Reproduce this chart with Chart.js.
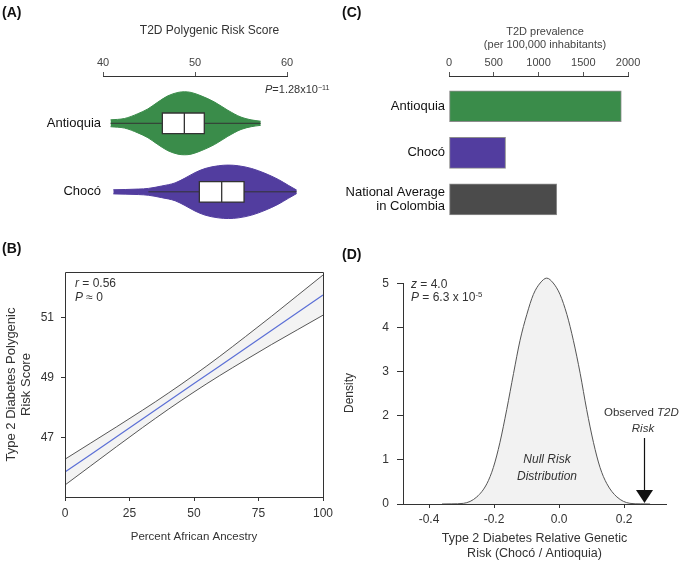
<!DOCTYPE html>
<html>
<head>
<meta charset="utf-8">
<title>T2D genetic risk: Antioquia vs Chocó</title>
<script src="https://cdn.jsdelivr.net/npm/chart.js@4.4.1/dist/chart.umd.min.js"></script>
<style>
  body { margin: 0; background: #fff; }
  #fig { position: relative; width: 685px; height: 563px; overflow: hidden;
         font-family: "Liberation Sans", Arial, sans-serif; color: #333; }
  #fig canvas { position: absolute; }
  .txt { position: absolute; white-space: nowrap; line-height: 1; font-size: 12px; }
  .lbl { font-weight: bold; font-size: 14px; color: #111; }
  .sup { font-size: 0.65em; position: relative; top: -0.5em; }
  .ctr { text-align: center; }
</style>
</head>
<body>
<div id="fig">
  <canvas id="chartA" width="340" height="245" style="left:0;top:0"></canvas>
  <canvas id="chartC" width="345" height="245" style="left:340px;top:0"></canvas>
  <canvas id="chartB" width="340" height="308" style="left:0;top:255px"></canvas>
  <canvas id="chartD" width="345" height="308" style="left:340px;top:255px"></canvas>

  <div class="txt lbl" style="left:2px;top:4.6px">(A)</div>
  <div class="txt lbl" style="left:2px;top:240.6px">(B)</div>
  <div class="txt lbl" style="left:342px;top:4.6px">(C)</div>
  <div class="txt lbl" style="left:342px;top:246.6px">(D)</div>

  <div class="txt" style="left:265px;top:84.2px;font-size:11px"><i>P</i>=1.28x10<span class="sup">−11</span></div>

  <div class="txt" style="left:75px;top:276.6px"><i>r</i> = 0.56</div>
  <div class="txt" style="left:75px;top:290.6px"><i>P</i> ≈ 0</div>

  <div class="txt" style="left:411px;top:277.6px"><i>z</i> = 4.0</div>
  <div class="txt" style="left:411px;top:290.6px"><i>P</i> = 6.3 x 10<span class="sup">-5</span></div>
  <div class="txt ctr" style="left:497px;width:100px;top:452.6px"><i>Null Risk</i></div>
  <div class="txt ctr" style="left:497px;width:100px;top:469.6px"><i>Distribution</i></div>
  <div class="txt" style="left:604px;top:406.9px;font-size:11.5px">Observed <i>T2D</i></div>
  <div class="txt ctr" style="left:613px;width:60px;top:422.9px;font-size:11.5px"><i>Risk</i></div>
  <div class="txt" style="left:349px;top:393px;transform:translate(-50%,-50%) rotate(-90deg)">Density</div>
</div>

<script>
// ---- (A) polygenic risk score violins ----
const violinGroups = ['Antioquia', 'Chocó'];
const antioquiaScore = [40.82, 42.34, 43.79, 44.88, 45.97, 47.05, 48.14, 48.86, 49.58, 50.67, 52.12, 53.57, 55.0, 56.1, 57.14];
const antioquiaWidth = [0.05, 0.07, 0.14, 0.21, 0.31, 0.40, 0.45, 0.46, 0.45, 0.40, 0.31, 0.19, 0.09, 0.05, 0.03];
const chocoScore = [41.12, 43.84, 44.93, 46.38, 47.83, 48.91, 50.0, 51.09, 52.54, 53.62, 54.71, 56.16, 57.61, 59.06, 60.14, 61.05];
const chocoWidth = [0.03, 0.04, 0.05, 0.085, 0.13, 0.20, 0.28, 0.34, 0.38, 0.39, 0.38, 0.34, 0.27, 0.18, 0.095, 0.025];
// whisker low, q1, median, q3, whisker high
const antioquiaBox = [40.82, 46.45, 48.84, 51.01, 57.14];
const chocoBox = [44.93, 50.47, 52.9, 55.33, 61.05];
const scoreTicks = [40, 50, 60];

// ---- (B) regression of PRS on African ancestry ----
const ancestryPct = [0, 10, 20, 30, 40, 50, 60, 70, 80, 90, 100];
const fitScore = [45.86, 46.45, 47.04, 47.63, 48.22, 48.81, 49.40, 49.99, 50.58, 51.17, 51.76];
const fitUpper = [46.29, 46.83, 47.37, 47.92, 48.49, 49.09, 49.72, 50.38, 51.05, 51.74, 52.43];
const fitLower = [45.43, 46.07, 46.71, 47.34, 47.95, 48.53, 49.08, 49.60, 50.11, 50.60, 51.09];
const ancestryTicks = [0, 25, 50, 75, 100];
const prsTicks = [47, 49, 51];

// ---- (C) T2D prevalence ----
const regions = ['Antioquia', 'Chocó', ['National Average', 'in Colombia']];
const prevalence = [1925, 632, 1204];
const prevalenceTicks = [0, 500, 1000, 1500, 2000];

// ---- (D) null distribution of relative risk ----
const riskX = [-0.36, -0.33, -0.294, -0.253, -0.222, -0.202, -0.182, -0.161, -0.14, -0.12, -0.099, -0.079, -0.058, -0.038,
               -0.018, 0.003, 0.024, 0.044, 0.065, 0.085, 0.106, 0.126, 0.147, 0.178, 0.218, 0.25, 0.28];
const riskDensity = [0, 0.003, 0.015, 0.16, 0.46, 0.83, 1.39, 2.14, 2.96, 3.71, 4.30, 4.75, 5.01, 5.12,
                     5.01, 4.75, 4.30, 3.71, 2.96, 2.14, 1.39, 0.83, 0.46, 0.16, 0.015, 0.003, 0];
const observedRisk = 0.26;
const densityTicks = [0, 1, 2, 3, 4, 5];
const riskTicks = [-0.4, -0.2, 0, 0.2];

const GREEN = '#3a8c4a', PURPLE = '#523d9f', GREY = '#4b4b4b', INK = '#333';
const BOX_HALF = 0.15;

Chart.defaults.font.family = '"Liberation Sans", Arial, sans-serif';
Chart.defaults.color = INK;

const snap = v => Math.round(v) + 0.5;
const fixTicks = list => s => { s.ticks = list.map(value => ({ value })); };

// axis lines that only span part of the plot area, plus an optional frame
const axisLine = {
  id: 'axisLine',
  afterDatasetsDraw(chart, args, opts) {
    const { ctx, chartArea: area, scales } = chart;
    ctx.save();
    ctx.strokeStyle = INK;
    ctx.lineWidth = 1;
    ctx.beginPath();
    (opts.segments || []).forEach(seg => {
      const sc = scales[seg.axis];
      const a = snap(sc.getPixelForValue(seg.from)), b = snap(sc.getPixelForValue(seg.to));
      if (seg.axis === 'x') {
        const y = snap(seg.edge === 'top' ? area.top : area.bottom);
        ctx.moveTo(a - 0.5, y); ctx.lineTo(b + 0.5, y);
      } else {
        const x = snap(area.left);
        ctx.moveTo(x, a + 0.5); ctx.lineTo(x, b - 0.5);
      }
    });
    if (opts.frame) {
      ctx.rect(snap(area.left), snap(area.top), Math.round(area.right - area.left), Math.round(area.bottom - area.top));
    }
    ctx.stroke();
    ctx.restore();
  }
};

// downward arrow marking the observed value on the x axis
const arrowMark = {
  id: 'arrowMark',
  afterDatasetsDraw(chart, args, opts) {
    const { ctx, scales: { x, y } } = chart;
    const px = snap(x.getPixelForValue(opts.value));
    const base = y.getPixelForValue(0);
    ctx.save();
    ctx.strokeStyle = '#111';
    ctx.fillStyle = '#111';
    ctx.lineWidth = 1.2;
    ctx.beginPath();
    ctx.moveTo(px, base - opts.length);
    ctx.lineTo(px, base - opts.head);
    ctx.stroke();
    ctx.beginPath();
    ctx.moveTo(px - opts.halfWidth, base - opts.head - 1);
    ctx.lineTo(px + opts.halfWidth, base - opts.head - 1);
    ctx.lineTo(px, base - 1);
    ctx.closePath();
    ctx.fill();
    ctx.restore();
  }
};

function options(padding, scales, extraPlugins) {
  return {
    responsive: false,
    animation: false,
    events: [],
    layout: { padding, autoPadding: false },
    elements: { point: { radius: 0 }, line: { tension: 0 } },
    plugins: Object.assign({ legend: { display: false }, tooltip: { enabled: false } }, extraPlugins || {}),
    scales
  };
}

function violin(xs, ws, center, color) {
  const style = { borderColor: color, borderWidth: 1, cubicInterpolationMode: 'monotone', order: 5 };
  return [
    { ...style, data: xs.map((x, i) => ({ x, y: center - ws[i] })), fill: '+1', backgroundColor: color },
    { ...style, data: xs.map((x, i) => ({ x, y: center + ws[i] })), fill: false }
  ];
}

function boxplot(stats, center) {
  const [lo, q1, med, q3, hi] = stats;
  const top = center - BOX_HALF, bot = center + BOX_HALF;
  return [
    { data: [{ x: lo, y: center }, { x: hi, y: center }], borderColor: INK, borderWidth: 1, order: 3 },
    { data: [{ x: q1, y: top }, { x: q3, y: top }], fill: { value: bot }, backgroundColor: '#fff',
      borderColor: 'rgba(0,0,0,0)', order: 2 },
    { data: [{ x: med, y: top }, { x: q3, y: top }, { x: q3, y: bot }, { x: q1, y: bot }, { x: q1, y: top }, { x: med, y: top }],
      borderColor: INK, borderWidth: 1.3, order: 1 },
    { data: [{ x: med, y: top }, { x: med, y: bot }], borderColor: INK, borderWidth: 1.3, order: 1 }
  ];
}

// (A)
new Chart(document.getElementById('chartA'), {
  type: 'line',
  data: {
    datasets: [
      ...violin(antioquiaScore, antioquiaWidth, 1, GREEN),
      ...violin(chocoScore, chocoWidth, 2, PURPLE),
      ...boxplot(antioquiaBox, 1),
      ...boxplot(chocoBox, 2)
    ]
  },
  options: options({ left: 0, top: 0, right: 24, bottom: 5 }, {
    x: {
      type: 'linear', position: 'top', min: 40, max: 63.15,
      afterBuildTicks: fixTicks(scoreTicks),
      afterFit: s => { s.height = 76; },
      border: { display: false },
      grid: { drawOnChartArea: false, tickLength: 4, color: '#555' },
      ticks: { padding: 2.5, color: '#444', font: { size: 11 } },
      title: { display: true, text: 'T2D Polygenic Risk Score', color: INK, font: { size: 12 }, padding: { top: 23.8, bottom: 0 } }
    },
    y: {
      type: 'linear', reverse: true, min: 0.31, max: 2.633,
      afterBuildTicks: fixTicks([1, 2]),
      afterFit: s => { s.width = 103; },
      border: { display: false },
      grid: { display: false, drawTicks: false },
      ticks: { padding: 2, color: '#111', font: { size: 13 }, callback: v => violinGroups[v - 1] }
    }
  }, { axisLine: { segments: [{ axis: 'x', edge: 'top', from: 40, to: 60 }] } }),
  plugins: [axisLine]
});

// (C)
new Chart(document.getElementById('chartC'), {
  type: 'bar',
  data: {
    datasets: [{
      data: prevalence.map((v, i) => ({ x: v, y: i })),
      backgroundColor: [GREEN, PURPLE, GREY],
      borderColor: 'rgba(0,0,0,0.45)',
      borderWidth: 1,
      borderSkipped: false,
      barThickness: 31
    }]
  },
  options: Object.assign(options({ left: 0, top: 0, right: 44, bottom: 5 }, {
    x: {
      type: 'linear', position: 'top', min: 0, max: 2145,
      afterBuildTicks: fixTicks(prevalenceTicks),
      afterFit: s => { s.height = 76; },
      border: { display: false },
      grid: { drawOnChartArea: false, tickLength: 4, color: '#555' },
      ticks: { padding: 2, color: '#444', font: { size: 11 }, callback: v => String(v) },
      title: { display: true, text: ['T2D prevalence', '(per 100,000 inhabitants)'], color: '#444',
               font: { size: 11 }, padding: { top: 25.4, bottom: 0 } }
    },
    y: {
      type: 'linear', reverse: true, offset: false, min: -0.65, max: 2.74,
      afterBuildTicks: fixTicks([0, 1, 2]),
      afterFit: s => { s.width = 109; },
      border: { display: false },
      grid: { display: false, drawTicks: false, offset: false },
      ticks: { padding: 4, color: '#111', font: { size: 13, lineHeight: 1.1 }, callback: v => regions[v] }
    }
  }, { axisLine: { segments: [{ axis: 'x', edge: 'top', from: 0, to: 2000 }] } }), { indexAxis: 'y' }),
  plugins: [axisLine]
});

// (B)
new Chart(document.getElementById('chartB'), {
  type: 'line',
  data: {
    datasets: [
      { data: ancestryPct.map((x, i) => ({ x, y: fitUpper[i] })), fill: '+1', backgroundColor: '#f3f3f3',
        borderColor: '#444', borderWidth: 0.9, cubicInterpolationMode: 'monotone', order: 2 },
      { data: ancestryPct.map((x, i) => ({ x, y: fitLower[i] })), borderColor: '#444', borderWidth: 0.9,
        cubicInterpolationMode: 'monotone', order: 1 },
      { data: ancestryPct.map((x, i) => ({ x, y: fitScore[i] })), borderColor: '#5b6fd6', borderWidth: 1.2, order: 0 }
    ]
  },
  options: options({ left: 0, top: 17, right: 17, bottom: 0 }, {
    x: {
      type: 'linear', min: 0, max: 100,
      afterBuildTicks: fixTicks(ancestryTicks),
      afterFit: s => { s.height = 66; },
      border: { display: false },
      grid: { drawOnChartArea: false, tickLength: 4, color: INK },
      ticks: { padding: 5, color: INK, font: { size: 12 } },
      title: { display: true, text: 'Percent African Ancestry', color: INK, font: { size: 11.5 }, padding: { top: 0, bottom: 19.4 } }
    },
    y: {
      type: 'linear', min: 45.03, max: 52.53,
      afterBuildTicks: fixTicks(prsTicks),
      afterFit: s => { s.width = 65; },
      border: { display: false },
      grid: { drawOnChartArea: false, tickLength: 4, color: INK },
      ticks: { padding: 7, color: INK, font: { size: 12 } },
      title: { display: true, text: ['Type 2 Diabetes Polygenic', 'Risk Score'], color: INK,
               font: { size: 13 }, padding: { top: 3.2, bottom: 0 } }
    }
  }, { axisLine: { frame: true } }),
  plugins: [axisLine]
});

// (D)
new Chart(document.getElementById('chartD'), {
  type: 'line',
  data: {
    datasets: [{
      data: riskX.map((x, i) => ({ x, y: riskDensity[i] })),
      fill: 'origin', backgroundColor: '#f2f2f2', borderColor: '#555', borderWidth: 1,
      cubicInterpolationMode: 'monotone'
    }]
  },
  options: options({ left: 0, top: 12.1, right: 19, bottom: 0 }, {
    x: {
      type: 'linear', min: -0.48, max: 0.329,
      afterBuildTicks: fixTicks(riskTicks),
      afterFit: s => { s.height = 59; },
      border: { display: true, color: INK },
      grid: { drawOnChartArea: false, tickLength: 4, color: INK },
      ticks: { padding: 4, color: INK, font: { size: 12 }, callback: v => v.toFixed(1) },
      title: { display: true, text: ['Type 2 Diabetes Relative Genetic', 'Risk (Chocó / Antioquia)'], color: INK,
               font: { size: 12.5, lineHeight: 1.15 }, padding: { top: 0, bottom: 2.4 } }
    },
    y: {
      type: 'linear', min: 0, max: 5.3,
      afterBuildTicks: fixTicks(densityTicks),
      afterFit: s => { s.width = 63; },
      border: { display: false },
      grid: { drawOnChartArea: false, tickLength: 6, color: INK },
      ticks: { padding: 8, color: INK, font: { size: 12 } }
    }
  }, {
    axisLine: { segments: [{ axis: 'y', from: 0, to: 5 }] },
    arrowMark: { value: observedRisk, length: 66, head: 13, halfWidth: 8.5 }
  }),
  plugins: [axisLine, arrowMark]
});
</script>
</body>
</html>
